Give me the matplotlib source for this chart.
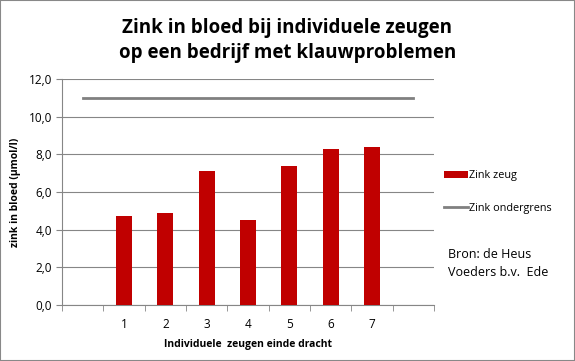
import matplotlib.pyplot as plt
from matplotlib.patches import Rectangle

plt.rcParams['font.family'] = ['Open Sans', 'DejaVu Sans']

# categories: blank slot, sows 1..7, blank slot
cats = ['', '1', '2', '3', '4', '5', '6', '7', '']
zink = [4.7, 4.9, 7.1, 4.5, 7.4, 8.3, 8.4]
grens = [11.0] * 9
yticks = [0, 2, 4, 6, 8, 10, 12]

fig = plt.figure(figsize=(5.75, 3.61), dpi=100)
fig.patches.append(Rectangle((0, 0), 1, 1, transform=fig.transFigure,
                             fill=False, edgecolor='#888888', linewidth=1.5))
ax = fig.add_axes([62 / 575, 1 - 305 / 361, 372 / 575, 226 / 361])

x = list(range(len(cats)))
bars = ax.bar(x[1:8], zink, width=0.38, color='#C00000', label='Zink zeug', zorder=3)
line, = ax.plot(x, grens, color='#808080', linewidth=2, label='Zink ondergrens', zorder=3)

ax.set_xlim(-0.5, len(cats) - 0.5)
ax.set_ylim(0, 12)
ax.set_yticks(yticks)
ax.set_yticklabels([f'{v:.1f}'.replace('.', ',') for v in yticks], fontsize=8.5)
ax.set_xticks(x)
ax.set_xticklabels(cats, fontsize=8.5)
ax.set_xticks([i - 0.5 for i in range(len(cats) + 1)], minor=True)
ax.tick_params(axis='x', which='major', length=0, pad=9)
ax.tick_params(axis='x', which='minor', length=4, color='#868686')
ax.tick_params(axis='y', length=4, color='#868686', pad=3)
ax.grid(axis='y', color='#868686', linewidth=0.8, zorder=0)
for s in ['top', 'right']:
    ax.spines[s].set_visible(False)
ax.spines['left'].set_color('#868686')
ax.spines['bottom'].set_color('#868686')

ax.set_ylabel('zink in bloed (µmol/l)', fontsize=7.5, fontweight='bold', labelpad=6)
ax.set_xlabel('Individuele  zeugen einde dracht', fontsize=7.5, fontweight='bold', labelpad=6)

fig.text(0.5, 0.95, 'Zink in bloed bij individuele zeugen\nop een bedrijf met klauwproblemen',
         ha='center', va='top', fontsize=13.5, fontweight='bold', linespacing=1.35)

ax.legend(handles=[bars, line], loc='upper left', bbox_to_anchor=(1.0, 0.64),
          frameon=False, fontsize=7.8, handlelength=2.2, labelspacing=2.0,
          handletextpad=0.1)

fig.text(448 / 575, 1 - 264 / 361, 'Bron: de Heus\nVoeders b.v.  Ede', ha='left', va='center',
         fontsize=9, linespacing=1.5)

fig.savefig('out.png', dpi=100)
